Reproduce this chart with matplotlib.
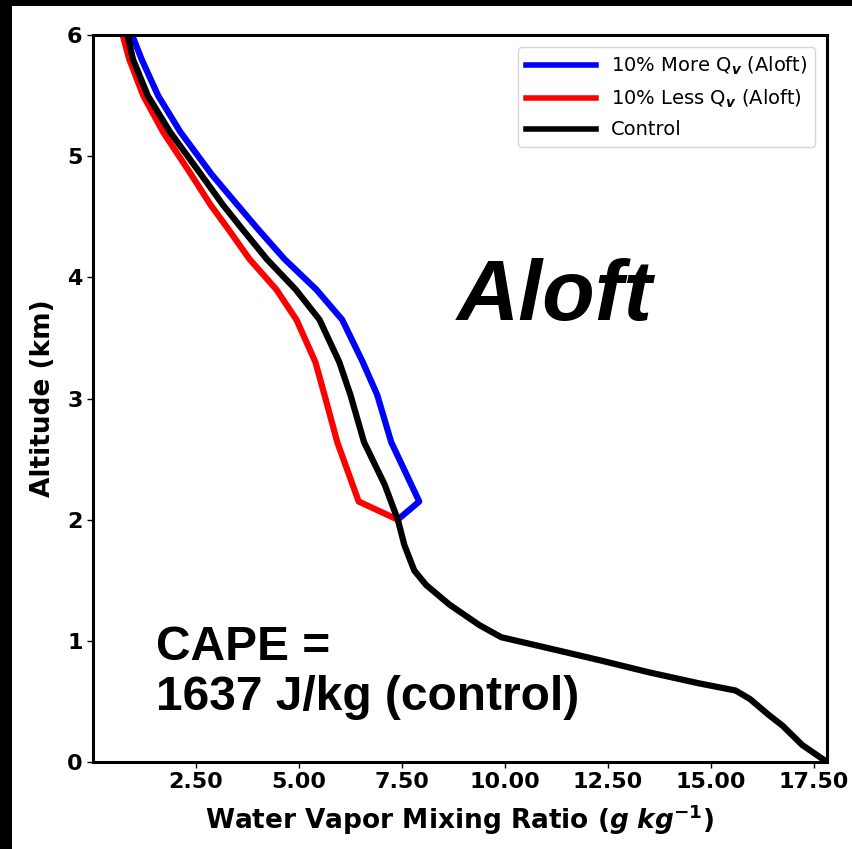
import matplotlib
matplotlib.use("Agg")
import matplotlib.pyplot as plt
from matplotlib.patches import Rectangle

# altitude levels (km) where the perturbed profiles are defined
alt_aloft = [6.0, 5.8, 5.5, 5.2, 4.85, 4.6, 4.4, 4.15, 3.9, 3.65, 3.3, 3.03, 2.64, 2.15, 2.0]

# mixing ratio (g/kg) for the two aloft perturbations
qv_more = [0.95, 1.18, 1.58, 2.12, 2.88, 3.5, 4.0, 4.65, 5.42, 6.05, 6.55, 6.9, 7.24, 7.92, 7.4]
qv_less = [0.72, 0.88, 1.22, 1.7, 2.38, 2.85, 3.28, 3.8, 4.45, 4.94, 5.4, 5.62, 5.93, 6.45, 7.4]

# control sounding, full column
alt_ctrl = [6.0, 5.8, 5.5, 5.2, 4.85, 4.6, 4.4, 4.15, 3.9, 3.65, 3.3, 3.03, 2.64, 2.29, 2.0,
            1.79, 1.58, 1.46, 1.3, 1.13, 1.03, 0.92, 0.84, 0.74, 0.65, 0.59, 0.52, 0.39,
            0.3, 0.14, 0.0]
qv_ctrl = [0.84, 0.97, 1.33, 1.87, 2.62, 3.15, 3.62, 4.22, 4.92, 5.5, 5.98, 6.25, 6.58, 7.08, 7.4,
           7.56, 7.8, 8.09, 8.65, 9.38, 9.91, 11.3, 12.3, 13.5, 14.7, 15.6, 15.95, 16.4,
           16.74, 17.22, 17.82]

cape_ctrl = 1637

fig = plt.figure(figsize=(8.52, 8.49), dpi=100)
fig.patch.set_facecolor("black")
fig.patches.append(Rectangle((12 / 852, 0), 1, 1 - 6 / 849, transform=fig.transFigure,
                             facecolor="white", edgecolor="none", zorder=-1))

ax = fig.add_axes([93 / 852, 87 / 849, 734 / 852, 727 / 849])
ax.plot(qv_more, alt_aloft, color="blue", lw=4.5, label=r"10% More Q$_{\mathbfit{v}}$ (Aloft)")
ax.plot(qv_less, alt_aloft, color="red", lw=4.5, label=r"10% Less Q$_{\mathbfit{v}}$ (Aloft)")
ax.plot(qv_ctrl, alt_ctrl, color="black", lw=4.5, label="Control")

ax.set_xlim(0, max(qv_ctrl))
ax.set_ylim(0, 6)
ax.set_xticks([2.5, 5, 7.5, 10, 12.5, 15, 17.5])
ax.set_xticklabels(["%.2f" % t for t in ax.get_xticks()])
ax.set_yticks(range(7))
for lab in ax.get_xticklabels() + ax.get_yticklabels():
    lab.set_fontsize(16)
    lab.set_fontweight("bold")
ax.tick_params(length=4, width=1)
for sp in ax.spines.values():
    sp.set_linewidth(2.2)

ax.set_xlabel(r"Water Vapor Mixing Ratio ($\mathbfit{g\ kg}^{\mathbf{-1}}$)", fontsize=19,
              fontweight="bold", labelpad=7)
ax.set_ylabel("Altitude (km)", fontsize=19, fontweight="bold", labelpad=8)

leg = ax.legend(loc="upper right", fontsize=14, handlelength=3.6, handletextpad=0.8,
                borderpad=0.4, labelspacing=0.55, borderaxespad=0.6)
for line in leg.get_lines():
    line.set_linewidth(4)

ax.text(11.2, 3.83, "Aloft", fontsize=62, fontweight="bold", fontstyle="italic",
        family="Liberation Sans", ha="center", va="center")
ax.text(1.54, 1.13, "CAPE =\n%d J/kg (control)" % cape_ctrl, fontsize=34.5, fontweight="bold",
        family="Liberation Sans", ha="left", va="top", linespacing=1.15)

fig.savefig("out.png", dpi=100, facecolor=fig.get_facecolor())
